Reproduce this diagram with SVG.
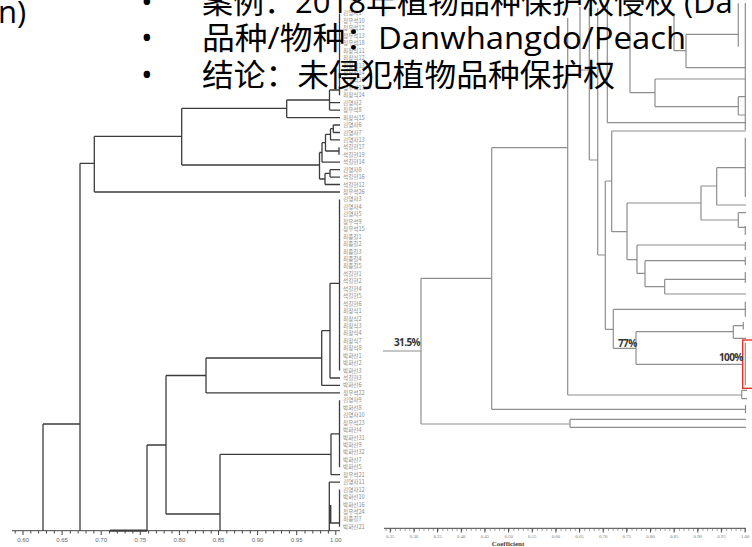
<svg xmlns="http://www.w3.org/2000/svg" width="752" height="547" viewBox="0 0 752 547">
<style>
.lt{fill:none;stroke:#3c3c3c;stroke-width:1.3}
.rt{fill:none;stroke:#8e8e8e;stroke-width:1.2}
.ax{fill:none;stroke:#444;stroke-width:1}
.lb{font-family:"Noto Sans CJK KR",sans-serif;font-size:5.6px;fill:#8a8a8a}
.tk{font-family:"Liberation Sans",sans-serif;font-size:6px;fill:#666;text-anchor:middle}
.tk2{font-family:"Liberation Serif",serif;font-size:4.8px;fill:#777;text-anchor:middle}
.pc{font-family:"Open Sans",sans-serif;font-size:10px;font-weight:bold;fill:#333;letter-spacing:-0.6px}
.big{font-family:"Open Sans","Noto Sans CJK SC",sans-serif;font-size:31px;fill:#000}
</style>
<rect width="752" height="547" fill="#fff"/>

<g id="left-tree" class="lt">
<path d="M43 424V531M43 424H80M80 163.3V531M80 163.3H94.3M94.3 136.3V192M94.3 136.3H181.7M94.3 192H340M181.7 108.3V165M181.7 108.3H286.7M181.7 165H319.5M286.7 100V117.6M286.7 100H329.5M286.7 117.6H340"/>
<path d="M329.5 90V110.1M329.5 110.1H340M329.5 102.7H340M329.5 90H339.5M339.5 13.4V95.3"/>
<path d="M333.3 125V132.5M333.3 125H340M333.3 132.5H340M330.5 128.7V139.9M330.5 128.7H333.3M330.5 139.9H340M339 147.3V154.8M325.5 134.3V151M325.5 134.3H330.5M325.5 151H339M322 142.7V162.2M322 142.7H325.5M322 162.2H340M330 169.7V177.1M330 169.7H340M330 177.1H340M325 173.4V184.5M325 173.4H330M325 184.5H340M319.5 152.5V179M319.5 152.5H322M319.5 179H325"/>
<path d="M339.5 199.4V370.5M330 283.3V378M330 283.3H339.5M330 378H340M321.7 330.7V385.4M321.7 330.7H330M321.7 385.4H340M206 358V392.9M206 358H321.7M206 392.9H340"/>
<path d="M339.5 400.3V467.3M331 433.8V474.7M331 433.8H339.5M331 474.7H340M220 454.3V531M220 454.3H331M166 375.5V514M166 375.5H206M166 514H220M147 445V531M147 445H166"/>
<path d="M329.3 482.1V531M329.3 482.1H340M339.5 489.6V526.8M329.3 523H339.5"/>
<path d="M330.3 505V523" stroke-width="2.2"/>
<path d="M110 530.6H147" stroke-width="2.4"/>
</g>

<g id="left-labels" class="lb">
<text x="343" y="15.4">김영자1</text><text x="343" y="22.9">청우석10</text><text x="343" y="30.3">청우석12</text><text x="343" y="37.7">청우석13</text><text x="343" y="45.2">청우석18</text><text x="343" y="52.6">최창식11</text><text x="343" y="60.1">최창식12</text><text x="343" y="67.5">최창식13</text><text x="343" y="74.9">청우석14</text><text x="343" y="82.4">청우석16</text><text x="343" y="89.8">청우석17</text><text x="343" y="97.3">최창식14</text>
<text x="343" y="104.7">김영자2</text><text x="343" y="112.1">청우석8</text><text x="343" y="119.6">최창식15</text><text x="343" y="127">김영자6</text><text x="343" y="134.5">김영자7</text><text x="343" y="141.9">김영자13</text><text x="343" y="149.3">석길현17</text><text x="343" y="156.8">석길현19</text><text x="343" y="164.2">석길현14</text><text x="343" y="171.7">김영자8</text><text x="343" y="179.1">석길현16</text><text x="343" y="186.5">석길현12</text><text x="343" y="194">청우석26</text><text x="343" y="201.4">김영자3</text><text x="343" y="208.9">김영자4</text><text x="343" y="216.3">김영자5</text><text x="343" y="223.7">청우석9</text><text x="343" y="231.2">청우석15</text><text x="343" y="238.6">최종길1</text><text x="343" y="246.1">최종길2</text><text x="343" y="253.5">최종길3</text><text x="343" y="260.9">최종길4</text><text x="343" y="268.4">최종길5</text><text x="343" y="275.8">석길현1</text><text x="343" y="283.3">석길현2</text><text x="343" y="290.7">석길현4</text><text x="343" y="298.1">석길현5</text><text x="343" y="305.6">석길현6</text><text x="343" y="313">최창식1</text><text x="343" y="320.5">최창식2</text><text x="343" y="327.9">최창식3</text><text x="343" y="335.3">최창식4</text><text x="343" y="342.8">최창식7</text><text x="343" y="350.2">최창식8</text><text x="343" y="357.7">박화선1</text><text x="343" y="365.1">박화선2</text><text x="343" y="372.5">박화선3</text><text x="343" y="380">석길현3</text><text x="343" y="387.4">박화선6</text><text x="343" y="394.9">청우석22</text><text x="343" y="402.3">김영자9</text><text x="343" y="409.7">박화선8</text><text x="343" y="417.2">김영자10</text><text x="343" y="424.6">청우석23</text><text x="343" y="432.1">박화선4</text><text x="343" y="439.5">박화선31</text><text x="343" y="446.9">박화선9</text><text x="343" y="454.4">박화선32</text><text x="343" y="461.8">박화선7</text><text x="343" y="469.3">박화선5</text><text x="343" y="476.7">청우석21</text><text x="343" y="484.1">김영자11</text><text x="343" y="491.6">김영자12</text><text x="343" y="499">박화선10</text><text x="343" y="506.5">박화선16</text><text x="343" y="513.9">청우석24</text><text x="343" y="521.3">최종길7</text><text x="343" y="528.8">박화선21</text>
</g>

<g id="left-axis">
<path class="ax" d="M12 530.7H340"/>
<path class="ax" d="M15.2 531v2.5M30.8 531v2.5M38.6 531v2.5M46.5 531v2.5M54.3 531v2.5M70.4 531v2.5M78.2 531v2.5M86 531v2.5M93.8 531v2.5M109.5 531v2.5M117.3 531v2.5M125.1 531v2.5M132.9 531v2.5M148.6 531v2.5M156.4 531v2.5M164.2 531v2.5M172 531v2.5M187.7 531v2.5M195.5 531v2.5M203.3 531v2.5M211.2 531v2.5M226.8 531v2.5M234.6 531v2.5M242.4 531v2.5M250.3 531v2.5M265.9 531v2.5M273.7 531v2.5M281.5 531v2.5M289.4 531v2.5M305 531v2.5M312.8 531v2.5M320.6 531v2.5M328.4 531v2.5"/>
<path class="ax" d="M23 531v4M62.1 531v4M101.2 531v4M140.3 531v4M179.4 531v4M218.5 531v4M257.6 531v4M296.7 531v4M335.8 531v4" stroke-width="1.3"/>
<text class="tk" x="23" y="542">0.60</text><text class="tk" x="62.1" y="542">0.65</text><text class="tk" x="101.2" y="542">0.70</text><text class="tk" x="140.3" y="542">0.75</text><text class="tk" x="179.4" y="542">0.80</text><text class="tk" x="218.5" y="542">0.85</text><text class="tk" x="257.6" y="542">0.90</text><text class="tk" x="296.7" y="542">0.95</text><text class="tk" x="335.8" y="542">1.00</text>
</g>

<g id="right-tree" class="rt">
<path d="M383 351H421M421 278.3V424M421 278.3H491.7M421 424H570M570 419.3V427.3M570 419.3H746M570 427.3H746M491.7 147.7V409.3M491.7 409.3H746M745.5 405V413.3M491.7 147.7H567.7M567.7 18V395M567.7 395H741.7M741.7 390.3V398.7M741.7 390.3H747M741.7 398.7H747"/>
<path d="M580 7V70M580 70H589.3M589.3 8V160M589.3 160H597.7M597.7 8V255M597.7 255H605.3M605.3 181V329.3M605.3 181H611.7M611.7 131V231.7M611.7 131H746M611.7 231.7H627M627 203V259.7M627 203H701M701 186V220M701 186H716.7M716.7 167.7V205M716.7 167.7H746M716.7 205H746M745.3 137.7V197M701 220H738.3M738.3 212.7V227.3M738.3 212.7H746M738.3 227.3H746M745.3 226V235"/>
<path d="M627 259.7H637M637 245V273.3M637 245H746M745.3 241.7V250M637 273.3H645M645 260.7V286.7M645 260.7H746M745.3 256.7V265M645 286.7H664.7M664.7 279.3V294M664.7 279.3H746M745.3 272V283M664.7 294H746"/>
<path d="M605.3 329.3H613.3M613.3 309.3V348.3M613.3 309.3H746M745.3 301.7V316.7M613.3 348.3H636M636 331.7V364.3M636 331.7H733.3M733.3 325.7V338.3M733.3 325.7H743.3M743.3 322V329.5M733.3 338.3H746M636 364.3H743M745.3 343V385"/>
<path d="M607.3 0V122.7M607.3 122.7H746M630 6.7V92.7M630 92.7H655M655 79V106.7M655 79H746M655 106.7H738.3M738.3 96.7V115M738.3 96.7H746M738.3 115H746M674 13.3V50.7M674 50.7H686M686 34.3V67.7M686 34.3H738.3M686 67.7H746M738.3 3.3V46.7M745.3 3V130"/>
</g>
<rect id="highlight" x="742.7" y="340" width="12" height="48.3" fill="none" stroke="#e8302a" stroke-width="1.4"/>

<g id="right-axis">
<path class="ax" d="M384 528.3H746" stroke="#555"/>
<path class="ax" stroke="#666" d="M390.3 528.5v4M414 528.5v4M437.6 528.5v4M461.3 528.5v4M484.9 528.5v4M508.6 528.5v4M532.2 528.5v4M555.9 528.5v4M579.5 528.5v4M603.2 528.5v4M626.8 528.5v4M650.5 528.5v4M674.1 528.5v4M697.8 528.5v4M721.4 528.5v4M745.1 528.5v4"/>
<path class="ax" stroke="#666" stroke-dasharray="1 3.73" d="M385.6 530H746" stroke-width="3"/>
<text class="tk2" x="390.3" y="537.5">0.25</text><text class="tk2" x="414" y="537.5">0.30</text><text class="tk2" x="437.6" y="537.5">0.35</text><text class="tk2" x="461.3" y="537.5">0.40</text><text class="tk2" x="484.9" y="537.5">0.45</text><text class="tk2" x="508.6" y="537.5">0.50</text><text class="tk2" x="532.2" y="537.5">0.55</text><text class="tk2" x="555.9" y="537.5">0.60</text><text class="tk2" x="579.5" y="537.5">0.65</text><text class="tk2" x="603.2" y="537.5">0.70</text><text class="tk2" x="626.8" y="537.5">0.75</text><text class="tk2" x="650.5" y="537.5">0.80</text><text class="tk2" x="674.1" y="537.5">0.85</text><text class="tk2" x="697.8" y="537.5">0.90</text><text class="tk2" x="721.4" y="537.5">0.95</text><text class="tk2" x="745.1" y="537.5">1.00</text>
<text x="508" y="546" font-family="Liberation Serif,serif" font-size="7" font-weight="bold" fill="#444" text-anchor="middle">Coefficient</text>
</g>

<g id="percent-labels">
<text class="pc" x="394" y="346">31.5%</text>
<text class="pc" x="618" y="347">77%</text>
<text class="pc" x="719" y="361">100%</text>
</g>

<g id="slide-text">
<text class="big" x="-2" y="23">n)</text>
<text class="big" x="141" y="13">•</text>
<text class="big" x="202" y="13">案例：2018年植物品种保护权侵权 (Da</text>
<text class="big" x="141" y="49">•</text>
<text class="big" x="202" y="49" textLength="484" lengthAdjust="spacingAndGlyphs">品种/物种：Danwhangdo/Peach</text>
<text class="big" x="141" y="86">•</text>
<text class="big" x="202" y="86" textLength="413" lengthAdjust="spacingAndGlyphs">结论：未侵犯植物品种保护权</text>
</g>
</svg>
